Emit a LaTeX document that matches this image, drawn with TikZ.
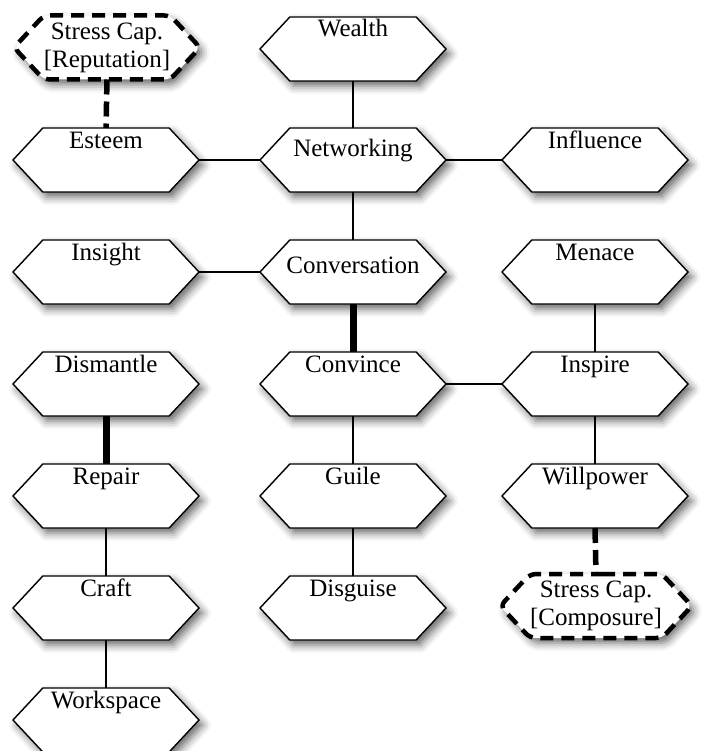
\documentclass[tikz,border=0pt]{standalone}
\usepackage{fontspec}
\setmainfont{Liberation Serif}
\usetikzlibrary{shapes.symbols,shadows.blur}
\tikzset{
  x=1pt, y=1pt,
  hx/.style={shape=signal, signal to=east and west, signal pointer angle=94,
    minimum width=186pt, minimum height=64pt, draw, line width=1.4pt, fill=white,
    inner sep=0pt, outer sep=0pt,
    blur shadow={shadow xshift=4pt, shadow yshift=-5pt, shadow blur radius=8pt, shadow opacity=60}},
  sc/.style={hx, line width=4.5pt, dash pattern=on 13pt off 8pt, rounded corners=6pt,
    align=center, font=\fontsize{25}{31}\selectfont},
  tx/.style={anchor=base, font=\fontsize{25}{30}\selectfont, inner sep=0pt},
  thin/.style={line width=1.5pt},
  thick/.style={line width=7pt},
  dashline/.style={line width=5.5pt, dash pattern=on 15pt off 7pt},
}
\begin{document}
\begin{tikzpicture}
\useasboundingbox (0,0) rectangle (702,-751);
% column 1
\node[sc] (rep) at (107,-47.5) {Stress Cap.\\[-3pt][Reputation]};
\node[hx, label={[tx, yshift=-21pt]north:Esteem}] (esteem) at (106,-160) {};
\node[hx, label={[tx, yshift=-20pt]north:Insight}] (insight) at (106,-272) {};
\node[hx, label={[tx, yshift=-20pt]north:Dismantle}] (dismantle) at (106,-384) {};
\node[hx, label={[tx, yshift=-20pt]north:Repair}] (repair) at (106,-496) {};
\node[hx, label={[tx, yshift=-20pt]north:Craft}] (craft) at (106,-608) {};
\node[hx, label={[tx, yshift=-20pt]north:Workspace}] (workspace) at (106,-720) {};
% column 2
\node[hx, label={[tx, yshift=-20pt]north:Wealth}] (wealth) at (353,-49) {};
\node[hx, label={[tx, yshift=-29pt]north:Networking}] (networking) at (353,-160) {};
\node[hx, label={[tx, yshift=-33pt]north:Conversation}] (conversation) at (353,-272) {};
\node[hx, label={[tx, yshift=-20pt]north:Convince}] (convince) at (353,-384) {};
\node[hx, label={[tx, yshift=-20pt]north:Guile}] (guile) at (353,-496) {};
\node[hx, label={[tx, yshift=-20pt]north:Disguise}] (disguise) at (353,-608) {};
% column 3
\node[hx, label={[tx, yshift=-21pt]north:Influence}] (influence) at (595,-160) {};
\node[hx, label={[tx, yshift=-20pt]north:Menace}] (menace) at (595,-272) {};
\node[hx, label={[tx, yshift=-20pt]north:Inspire}] (inspire) at (595,-384) {};
\node[hx, label={[tx, yshift=-20pt]north:Willpower}] (willpower) at (595,-496) {};
\node[sc] (comp) at (596,-606) {Stress Cap.\\[-3pt][Composure]};
% connectors
\draw[dashline] (rep.south) -- (esteem.north);
\draw[thin] (esteem.east) -- (networking.west);
\draw[thin] (networking.east) -- (influence.west);
\draw[thin] (wealth.south) -- (networking.north);
\draw[thin] (networking.south) -- (conversation.north);
\draw[thin] (insight.east) -- (conversation.west);
\draw[thick] (conversation.south) -- (convince.north);
\draw[thin] (convince.east) -- (inspire.west);
\draw[thin] (menace.south) -- (inspire.north);
\draw[thin] (inspire.south) -- (willpower.north);
\draw[dashline] (willpower.south) -- (comp.north);
\draw[thin] (convince.south) -- (guile.north);
\draw[thin] (guile.south) -- (disguise.north);
\draw[thick] (dismantle.south) -- (repair.north);
\draw[thin] (repair.south) -- (craft.north);
\draw[thin] (craft.south) -- (workspace.north);
\end{tikzpicture}
\end{document}
